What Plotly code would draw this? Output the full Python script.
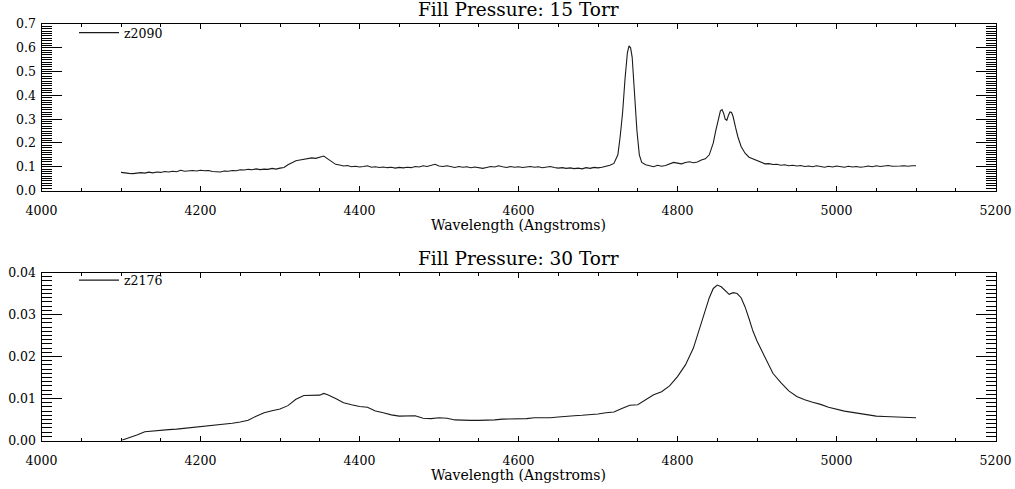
import plotly.graph_objects as go

# ---------------- data ----------------
wl_15 = [4100, 4105, 4110, 4115, 4120, 4125, 4130, 4135, 4140, 4145, 4150, 4155, 4160, 4165, 4170, 4175, 4180, 4185, 4190, 4195,
         4200, 4205, 4210, 4215, 4220, 4225, 4230, 4235, 4240, 4245, 4250, 4255, 4260, 4265, 4270, 4275, 4280, 4285, 4290, 4295,
         4300, 4305, 4310, 4315, 4320, 4325, 4330, 4335, 4340, 4345, 4350, 4355, 4360, 4365, 4370, 4375, 4380, 4385, 4390, 4395,
         4400, 4405, 4410, 4415, 4420, 4425, 4430, 4435, 4440, 4445, 4450, 4455, 4460, 4465, 4470, 4475, 4480, 4485, 4490, 4495,
         4500, 4505, 4510, 4515, 4520, 4525, 4530, 4535, 4540, 4545, 4550, 4555, 4560, 4565, 4570, 4575, 4580, 4585, 4590, 4595,
         4600, 4605, 4610, 4615, 4620, 4625, 4630, 4635, 4640, 4645, 4650, 4655, 4660, 4665, 4670, 4675, 4680, 4685, 4690, 4695,
         4700, 4705, 4710, 4715, 4720, 4725, 4728, 4731, 4734, 4737, 4739, 4741, 4743, 4746, 4749, 4752, 4755, 4760, 4765, 4770,
         4775, 4780, 4785, 4790, 4795, 4800, 4805, 4810, 4815, 4820, 4825, 4830, 4835, 4840, 4845, 4848, 4851, 4854, 4856, 4858,
         4860, 4862, 4864, 4866, 4868, 4870, 4873, 4876, 4880, 4885, 4890, 4895, 4900, 4905, 4910, 4915, 4920, 4925, 4930, 4935,
         4940, 4945, 4950, 4955, 4960, 4965, 4970, 4975, 4980, 4985, 4990, 4995, 5000, 5005, 5010, 5015, 5020, 5025, 5030, 5035,
         5040, 5045, 5050, 5055, 5060, 5065, 5070, 5075, 5080, 5085, 5090, 5095, 5100]
flux_15 = [0.076, 0.073, 0.072, 0.071, 0.074, 0.075, 0.073, 0.077, 0.074, 0.078, 0.076, 0.080, 0.078, 0.081, 0.079, 0.085, 0.081, 0.083, 0.084, 0.082,
           0.085, 0.083, 0.084, 0.080, 0.079, 0.078, 0.082, 0.081, 0.084, 0.083, 0.087, 0.086, 0.089, 0.087, 0.091, 0.088, 0.090, 0.089, 0.093, 0.090,
           0.094, 0.097, 0.108, 0.118, 0.125, 0.128, 0.132, 0.134, 0.137, 0.135, 0.140, 0.145, 0.133, 0.120, 0.110, 0.107, 0.103, 0.105, 0.100, 0.102,
           0.099, 0.101, 0.104, 0.098, 0.100, 0.097, 0.099, 0.096, 0.098, 0.094, 0.097, 0.095, 0.098, 0.096, 0.101, 0.099, 0.104, 0.101, 0.106, 0.110,
           0.103, 0.101, 0.104, 0.100, 0.097, 0.101, 0.098, 0.100, 0.096, 0.099, 0.097, 0.093, 0.097, 0.101, 0.099, 0.104, 0.100, 0.097, 0.101, 0.098,
           0.100, 0.097, 0.099, 0.101, 0.098, 0.100, 0.096, 0.099, 0.101, 0.097, 0.094, 0.096, 0.093, 0.095, 0.092, 0.094, 0.091, 0.096, 0.093, 0.097,
           0.095, 0.098, 0.101, 0.106, 0.114, 0.150, 0.230, 0.330, 0.470, 0.580, 0.608, 0.600, 0.560, 0.400, 0.250, 0.150, 0.118, 0.108, 0.104, 0.100,
           0.106, 0.102, 0.105, 0.113, 0.118, 0.115, 0.112, 0.118, 0.121, 0.117, 0.120, 0.128, 0.133, 0.150, 0.200, 0.250, 0.300, 0.335, 0.340, 0.325,
           0.300, 0.295, 0.315, 0.330, 0.328, 0.310, 0.265, 0.225, 0.185, 0.157, 0.140, 0.133, 0.128, 0.118, 0.112, 0.113, 0.109, 0.110, 0.106, 0.108,
           0.104, 0.106, 0.103, 0.105, 0.101, 0.103, 0.100, 0.104, 0.101, 0.098, 0.102, 0.099, 0.103, 0.100, 0.098, 0.102, 0.099, 0.101, 0.098, 0.100,
           0.103, 0.100, 0.104, 0.101, 0.103, 0.105, 0.102, 0.104, 0.103, 0.104, 0.102, 0.104, 0.104]

wl_30 = [4100, 4110, 4120, 4130, 4140, 4150, 4160, 4170, 4180, 4190, 4200, 4210, 4220, 4230, 4240, 4250, 4260, 4270, 4280, 4290,
         4300, 4310, 4320, 4330, 4340, 4350, 4355, 4360, 4370, 4380, 4390, 4400, 4410, 4420, 4430, 4440, 4450, 4460, 4470, 4480,
         4490, 4500, 4510, 4520, 4530, 4540, 4550, 4560, 4570, 4580, 4590, 4600, 4610, 4620, 4630, 4640, 4650, 4660, 4670, 4680,
         4690, 4700, 4710, 4720, 4730, 4740, 4750, 4760, 4770, 4780, 4790, 4800, 4810, 4820, 4830, 4840, 4845, 4850, 4855, 4860,
         4865, 4870, 4875, 4880, 4885, 4890, 4895, 4900, 4910, 4920, 4930, 4940, 4950, 4960, 4970, 4980, 4990, 5000, 5010, 5020,
         5030, 5040, 5050, 5060, 5070, 5080, 5090, 5100]
flux_30 = [0.0000, 0.0006, 0.0013, 0.0021, 0.0023, 0.0025, 0.0026, 0.0027, 0.0029, 0.0031, 0.0033, 0.0034, 0.0036, 0.0038, 0.0041, 0.0044, 0.0048, 0.0058, 0.0066, 0.0071,
           0.0075, 0.0083, 0.0098, 0.0107, 0.0107, 0.0108, 0.0112, 0.0109, 0.0100, 0.0090, 0.0085, 0.0081, 0.0079, 0.0070, 0.0066, 0.0061, 0.0058, 0.0059, 0.0059, 0.0053,
           0.0052, 0.0054, 0.0053, 0.0049, 0.0048, 0.0048, 0.0048, 0.0048, 0.0049, 0.0051, 0.0051, 0.0052, 0.0052, 0.0054, 0.0054, 0.0054, 0.0056, 0.0058, 0.0059, 0.0060,
           0.0061, 0.0063, 0.0066, 0.0068, 0.0076, 0.0084, 0.0085, 0.0098, 0.0109, 0.0116, 0.0130, 0.0152, 0.0180, 0.0220, 0.0280, 0.0340, 0.0362, 0.0370, 0.0366, 0.0358,
           0.0348, 0.0352, 0.0350, 0.0340, 0.0318, 0.0290, 0.0260, 0.0237, 0.0200, 0.0160, 0.0138, 0.0118, 0.0105, 0.0097, 0.0091, 0.0086, 0.0079, 0.0074, 0.0070, 0.0067,
           0.0064, 0.0060, 0.0058, 0.0057, 0.0056, 0.0055, 0.0054, 0.0054]

labels = ["z2090", "z2176"]
titles = ["Fill Pressure: 15 Torr", "Fill Pressure: 30 Torr"]
x_title = "Wavelength (Angstroms)"

# ---------------- figure ----------------
W, H = 1015, 489
TITLE_FONT = "DejaVu Serif"
TICK_FONT = "DejaVu Serif"
LINE = "#1a1a1a"

fig = go.Figure()
fig.add_trace(go.Scatter(x=wl_15, y=flux_15, mode="lines", name=labels[0], showlegend=True,
                         line=dict(color=LINE, width=1.1), xaxis="x", yaxis="y", legend="legend"))
fig.add_trace(go.Scatter(x=wl_30, y=flux_30, mode="lines", name=labels[1], showlegend=True,
                         line=dict(color=LINE, width=1.1), xaxis="x2", yaxis="y2", legend="legend2"))

xdom = [41.5 / W, 995.5 / W]
y1dom = [1 - 190.5 / H, 1 - 24 / H]
y2dom = [1 - 440.5 / H, 1 - 272.5 / H]

def xaxis(anchor):
    return dict(domain=xdom, anchor=anchor, range=[4000, 5200], dtick=200, tick0=4000,
                ticks="inside", ticklen=5, tickwidth=1, tickcolor="black",
                minor=dict(dtick=50, ticks="inside", ticklen=3, tickcolor="black"),
                showline=True, linecolor="black", linewidth=1, mirror="ticks",
                showgrid=False, zeroline=False, ticklabelstandoff=8, automargin=False,
                tickfont=dict(family=TICK_FONT, size=12.5, color="black"),
                title=dict(text=x_title, font=dict(family=TITLE_FONT, size=14, color="black"), standoff=3))

def yaxis(anchor, dom, rng, dt, mdt, fmt):
    return dict(domain=dom, anchor=anchor, range=rng, dtick=dt, tick0=0,
                ticks="inside", ticklen=20, tickwidth=1, tickcolor="black",
                minor=dict(dtick=mdt, ticks="inside", ticklen=10, tickcolor="black"),
                showline=True, linecolor="black", linewidth=1, mirror="ticks",
                showgrid=False, zeroline=False, tickformat=fmt, automargin=False,
                ticklabelstandoff=2,
                tickfont=dict(family=TICK_FONT, size=12.5, color="black"))

fig.update_layout(
    width=W, height=H, margin=dict(l=0, r=0, t=0, b=0),
    paper_bgcolor="white", plot_bgcolor="white", showlegend=True,
    xaxis=xaxis("y"), yaxis=yaxis("x", y1dom, [0, 0.7], 0.1, 0.01, ".1f"),
    xaxis2=xaxis("y2"), yaxis2=yaxis("x2", y2dom, [0, 0.04], 0.01, 0.001, ".2f"),
    legend=dict(x=74 / W, y=1 - 18 / H, xanchor="left", yanchor="top", itemwidth=40,
                bgcolor="rgba(0,0,0,0)", font=dict(family=TICK_FONT, size=12.5, color="black")),
    legend2=dict(x=74 / W, y=1 - 265.5 / H, xanchor="left", yanchor="top", itemwidth=40,
                 bgcolor="rgba(0,0,0,0)", font=dict(family=TICK_FONT, size=12.5, color="black")),
    annotations=[
        dict(text=titles[0], x=0.5 * (xdom[0] + xdom[1]), y=1 - 9.5 / H, xref="paper", yref="paper",
             showarrow=False, font=dict(family=TITLE_FONT, size=18.5, color="black"), yanchor="middle"),
        dict(text=titles[1], x=0.5 * (xdom[0] + xdom[1]), y=1 - 258.5 / H, xref="paper", yref="paper",
             showarrow=False, font=dict(family=TITLE_FONT, size=18.5, color="black"), yanchor="middle"),
    ],
)

fig.write_html("out.html")
